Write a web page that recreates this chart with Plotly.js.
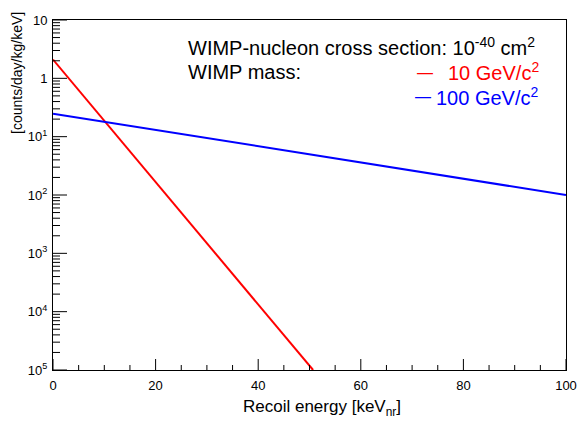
<!DOCTYPE html>
<html>
<head>
<meta charset="utf-8">
<script src="https://cdn.plot.ly/plotly-3.0.1.min.js"></script>
<style>html,body{margin:0;padding:0;background:#fff;}#chart{width:581px;height:436px;}</style>
</head>
<body>
<div id="chart"></div>
<script>
// Data
const energy10 = [0, 50.7];        // keV_nr
const rate10 = [2.1, 1e-5];        // counts/day/kg/keV, 10 GeV/c^2
const energy100 = [0, 100];
const rate100 = [0.248, 0.01];     // 100 GeV/c^2

const yTickVals = [1e-5, 1e-4, 1e-3, 1e-2, 1e-1, 1, 10];
const yTickText = ['10<sup>5</sup>', '10<sup>4</sup>', '10<sup>3</sup>', '10<sup>2</sup>', '10<sup>1</sup>', '1', '10'];
const xTickVals = [0, 20, 40, 60, 80, 100];
const xTickText = ['0', '20', '40', '60', '80', '100'];

const FONT = 'Liberation Sans, Arial, Helvetica, sans-serif';

// tick marks (axis decoration) placed through the axes' own scales
const tickShapes = [];
function yTick(v, len) {
  tickShapes.push({type: 'line', layer: 'above', xref: 'paper', yref: 'y', xsizemode: 'pixel', xanchor: 0,
    x0: 0, x1: len, y0: v, y1: v, line: {color: '#000', width: 1}});
}
function xTick(v, len) {
  tickShapes.push({type: 'line', layer: 'above', xref: 'x', yref: 'y', ysizemode: 'pixel', yanchor: yTickVals[0],
    x0: v, x1: v, y0: -len, y1: len, line: {color: '#000', width: 1}});
}
for (let i = 0; i < yTickVals.length; i++) {
  yTick(yTickVals[i], 14);
  if (i < yTickVals.length - 1) for (let m = 2; m <= 9; m++) yTick(m * yTickVals[i], 7);
}
for (let i = 0; i < xTickVals.length; i++) {
  xTick(xTickVals[i], 11);
  if (i < xTickVals.length - 1) {
    const step = (xTickVals[i + 1] - xTickVals[i]) / 4;
    for (let k = 1; k < 4; k++) xTick(xTickVals[i] + k * step, 5);
  }
}

const traces = [
  {x: energy10, y: rate10, mode: 'lines', line: {color: '#ff0000', width: 2}, showlegend: false, hoverinfo: 'skip'},
  {x: energy100, y: rate100, mode: 'lines', line: {color: '#0000ff', width: 2}, showlegend: false, hoverinfo: 'skip'}
];

const px = v => (v - 53) / 513;
const py = v => (370 - v) / 350;

const layout = {
  width: 581, height: 436,
  margin: {l: 53, r: 15, t: 20, b: 66, pad: 0},
  paper_bgcolor: '#ffffff', plot_bgcolor: '#ffffff',
  font: {family: FONT, color: '#000000', size: 13},
  xaxis: {
    range: [0, 100], showgrid: false, zeroline: false,
    showline: true, linecolor: '#000', linewidth: 1, mirror: true,
    ticks: '', ticklabelstandoff: 3,
    tickmode: 'array', tickvals: xTickVals, ticktext: xTickText,
    tickfont: {family: FONT, size: 13, color: '#000'}
  },
  yaxis: {
    type: 'log', range: [-5, 1], showgrid: false, zeroline: false,
    showline: true, linecolor: '#000', linewidth: 1, mirror: true,
    ticks: '', ticklabelstandoff: 2,
    tickmode: 'array', tickvals: yTickVals, ticktext: yTickText,
    tickfont: {family: FONT, size: 13, color: '#000'}
  },
  shapes: tickShapes,
  annotations: [
    {text: 'WIMP-nucleon cross section: 10<sup>-40</sup> cm<sup>2</sup>', xref: 'paper', yref: 'paper',
     x: px(186), y: py(46), xanchor: 'left', yanchor: 'middle', showarrow: false,
     font: {family: FONT, size: 20, color: '#000'}},
    {text: 'WIMP mass:', xref: 'paper', yref: 'paper',
     x: px(186), y: py(72), xanchor: 'left', yanchor: 'middle', showarrow: false,
     font: {family: FONT, size: 20, color: '#000'}},
    {text: '—', xref: 'paper', yref: 'paper',
     x: px(425), y: py(72), xanchor: 'center', yanchor: 'middle', showarrow: false,
     font: {family: FONT, size: 16, color: '#ff0000'}},
    {text: '10 GeV/c<sup>2</sup>', xref: 'paper', yref: 'paper',
     x: px(541), y: py(71), xanchor: 'right', yanchor: 'middle', showarrow: false,
     font: {family: FONT, size: 20, color: '#ff0000'}},
    {text: '—', xref: 'paper', yref: 'paper',
     x: px(423), y: py(97), xanchor: 'center', yanchor: 'middle', showarrow: false,
     font: {family: FONT, size: 16, color: '#0000ff'}},
    {text: '100 GeV/c<sup>2</sup>', xref: 'paper', yref: 'paper',
     x: px(541), y: py(96), xanchor: 'right', yanchor: 'middle', showarrow: false,
     font: {family: FONT, size: 20, color: '#0000ff'}},
    {text: 'Recoil energy [keV<sub>nr</sub>]', xref: 'paper', yref: 'paper',
     x: px(322), y: py(408), xanchor: 'center', yanchor: 'middle', showarrow: false,
     font: {family: FONT, size: 17, color: '#000'}},
    {text: '[counts/day/kg/keV]', xref: 'paper', yref: 'paper', textangle: -90,
     x: px(17), y: py(73), xanchor: 'center', yanchor: 'middle', showarrow: false,
     font: {family: FONT, size: 14, color: '#000'}}
  ]
};

Plotly.newPlot('chart', traces, layout, {staticPlot: true, displayModeBar: false});
</script>
</body>
</html>
